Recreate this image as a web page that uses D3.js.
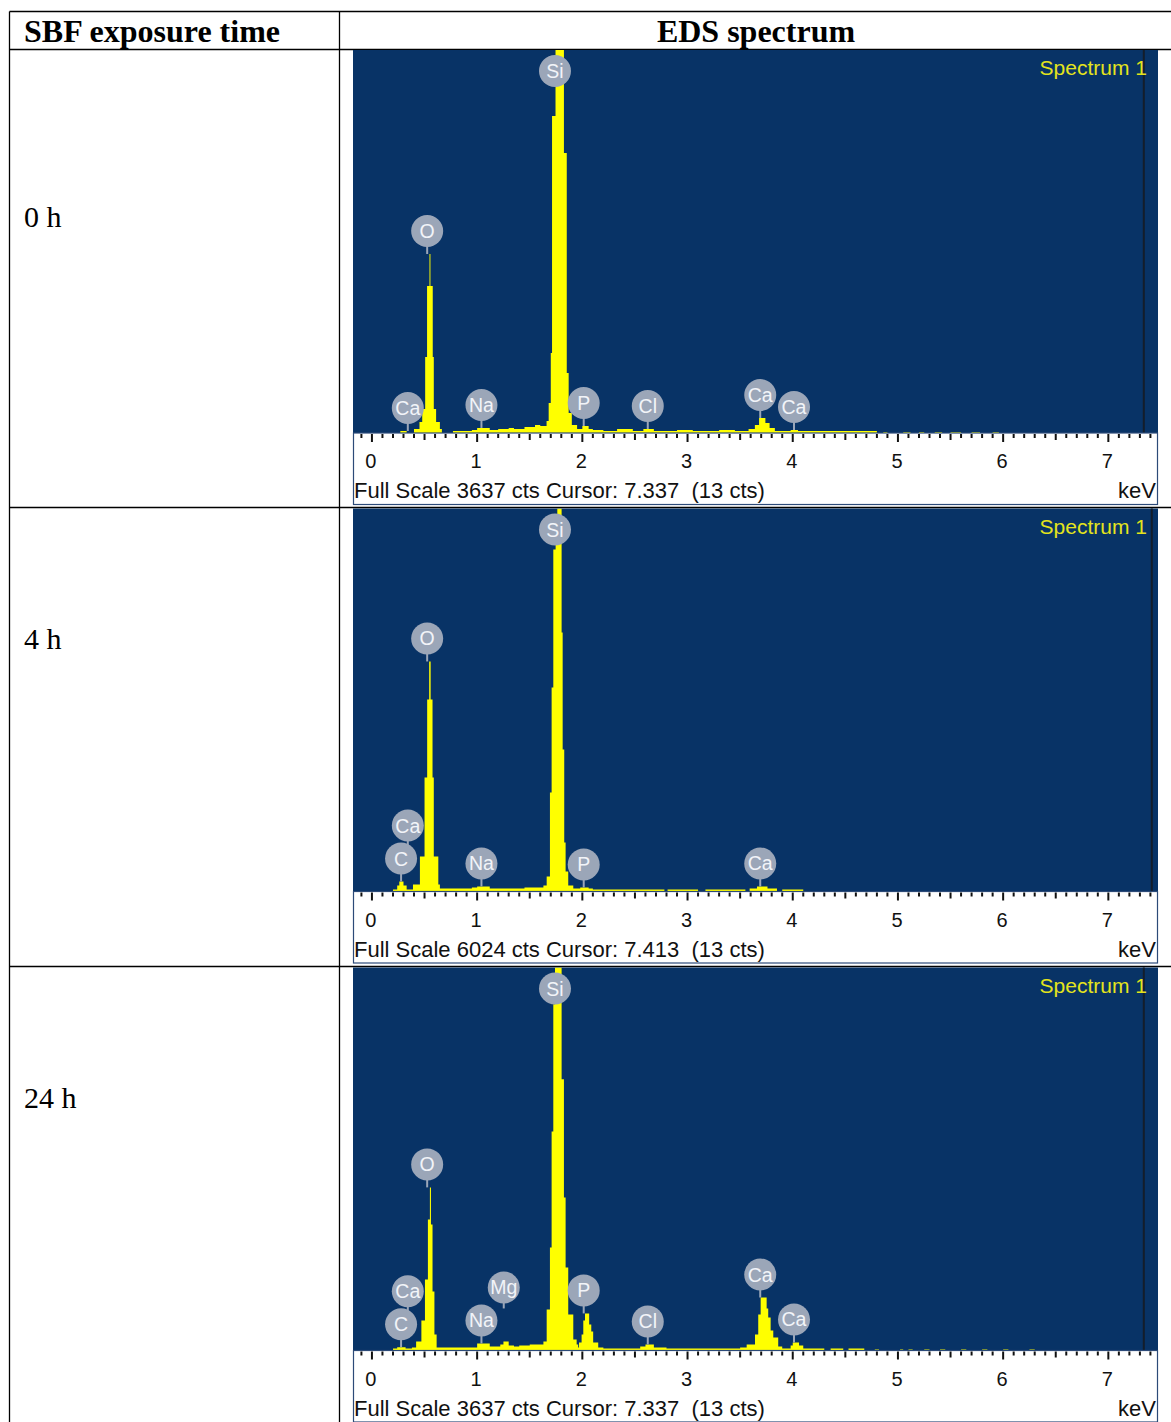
<!DOCTYPE html>
<html><head><meta charset="utf-8">
<script src="https://cdn.jsdelivr.net/npm/d3@7"></script>
<style>
html,body{margin:0;padding:0;background:#fff;}
svg{display:block;}
text{white-space:pre;}
</style></head>
<body>
<svg id="chart" width="1171" height="1422"></svg>
<script>
// ---------------- DATA ----------------
const headers = ["SBF exposure time", "EDS spectrum"];
const times = ["0 h", "4 h", "24 h"];
const fullScales = [3637, 6024, 3637];
const cursors = [7.337, 7.413, 7.337];
const cursorCounts = [13, 13, 13];
const tickValues = [0, 1, 2, 3, 4, 5, 6, 7];
const spectrumName = "Spectrum 1";

// step spectra: [keV where step starts, counts]
const spectrum0h = [
  [0.10,0],[0.27,19],[0.33,0],[0.40,38],[0.452,105],[0.478,228],[0.506,722],[0.524,1397],
  [0.547,1700],[0.556,1397],[0.578,722],[0.588,228],[0.610,105],[0.646,38],[0.665,0],
  [0.77,19],[0.95,28],[1.00,48],[1.12,28],[1.20,38],[1.30,48],[1.35,38],[1.45,57],[1.55,76],
  [1.60,66],[1.66,114],[1.68,285],[1.70,760],[1.712,3011],[1.745,3637],[1.825,2660],
  [1.852,570],[1.87,190],[1.90,76],[1.95,38],[2.00,66],[2.06,38],[2.10,28],[2.20,19],
  [2.33,38],[2.48,19],[2.58,38],[2.68,19],[2.90,28],[3.05,19],[3.30,28],[3.45,19],
  [3.58,38],[3.64,76],[3.68,142],[3.74,95],[3.78,48],[3.83,19],[3.98,28],[4.05,19],
  [4.80,0],[4.86,10],[4.90,0],[5.05,10],[5.12,0],[5.20,10],[5.25,0],[5.35,10],[5.42,0],
  [5.50,10],[5.60,0],[5.70,10],[5.78,0],[5.90,10],[5.96,0],[7.60,0]
];
const spectrum4h = [
  [0.10,0],[0.20,31],[0.24,94],[0.26,157],[0.30,94],[0.33,31],[0.39,110],[0.456,551],
  [0.500,1793],[0.525,3020],[0.544,3618],[0.558,3020],[0.576,1793],[0.588,551],[0.631,110],
  [0.646,47],[0.95,63],[1.00,79],[1.12,47],[1.45,63],[1.63,94],[1.661,236],[1.692,1557],
  [1.708,3209],[1.724,5380],[1.746,5664],[1.762,6024],[1.803,4074],[1.813,2234],[1.828,771],
  [1.841,315],[1.866,94],[1.914,47],[1.98,63],[2.06,47],[2.10,31],[2.78,0],[2.81,31],
  [3.10,0],[3.17,31],[3.55,0],[3.59,47],[3.66,79],[3.76,47],[3.85,0],[3.90,31],[4.10,0],[7.60,0]
];
const spectrum24h = [
  [0.10,0],[0.20,19],[0.24,31],[0.32,19],[0.38,28],[0.42,86],[0.47,285],[0.504,675],
  [0.532,1245],[0.551,1549],[0.561,1197],[0.576,560],[0.594,152],[0.615,28],[1.00,67],
  [1.12,38],[1.22,57],[1.25,86],[1.30,48],[1.35,38],[1.40,48],[1.50,57],[1.63,86],
  [1.661,390],[1.692,978],[1.708,2080],[1.724,3287],[1.740,3637],[1.803,2575],[1.825,1454],
  [1.841,789],[1.866,342],[1.914,105],[1.946,57],[1.96,28],[1.968,76],[1.993,152],[2.009,285],
  [2.025,352],[2.065,247],[2.085,180],[2.103,76],[2.151,28],[2.20,19],[2.55,38],[2.60,57],
  [2.68,28],[2.80,19],[3.50,28],[3.562,57],[3.641,152],[3.672,342],[3.695,503],[3.752,400],
  [3.767,313],[3.79,190],[3.815,124],[3.862,38],[3.90,19],[3.98,48],[4.00,76],[4.06,48],
  [4.10,19],[4.30,0],[4.36,19],[4.48,0],[4.53,19],[4.68,0],[4.78,10],[4.82,0],[5.02,10],
  [5.05,0],[5.10,10],[5.14,0],[5.25,10],[5.30,0],[5.40,10],[5.45,0],[5.60,10],[5.65,0],
  [5.80,10],[5.85,0],[6.00,10],[6.05,0],[6.25,10],[6.30,0],[7.60,0]
];
// peak labels: [element, line energy keV, stack level]
const labels0h = [["Ca",0.341,0],["O",0.525,0],["Na",1.041,0],["Si",1.740,0],["P",2.013,0],
  ["Cl",2.622,0],["Ca",3.691,0],["Ca",4.012,0]];
const labels4h = [["C",0.277,0],["Ca",0.341,1],["O",0.525,0],["Na",1.041,0],["Si",1.740,0],
  ["P",2.013,0],["Ca",3.691,0]];
const labels24h = [["C",0.277,0],["Ca",0.341,1],["O",0.525,0],["Na",1.041,0],["Mg",1.253,1],
  ["Si",1.740,0],["P",2.013,0],["Cl",2.622,0],["Ca",3.691,0],["Ca",4.012,0]];

const spectra = [spectrum0h, spectrum4h, spectrum24h];
const labelSets = [labels0h, labels4h, labels24h];

// ---------------- LAYOUT ----------------
const svg = d3.select("#chart");
const W = 1171;
const tableLeft = 9.5, tableTop = 11.5, headerBottom = 49.5, colDiv = 339.5;
const rowLines = [507.5, 966.5];
const panelTops = [50, 508.5, 967.5];
const panelX0 = 353, panelX1 = 1158;
const plotH = 383, axisH = 72;
const BLUE = "#083366", YELLOW = "#ffff00", LABEL = "#9ba6b8";

const x = d3.scaleLinear().domain([-0.18, 7.472]).range([panelX0, panelX1]);

// table
const tg = svg.append("g");
tg.append("line").attr("x1", tableLeft).attr("x2", W).attr("y1", tableTop).attr("y2", tableTop);
tg.append("line").attr("x1", tableLeft).attr("x2", W).attr("y1", headerBottom).attr("y2", headerBottom);
rowLines.forEach(y => tg.append("line").attr("x1", tableLeft).attr("x2", W).attr("y1", y).attr("y2", y));
tg.append("line").attr("x1", tableLeft).attr("x2", tableLeft).attr("y1", tableTop).attr("y2", 1422);
tg.append("line").attr("x1", colDiv).attr("x2", colDiv).attr("y1", tableTop).attr("y2", 1422);
tg.selectAll("line").attr("stroke", "#000").attr("stroke-width", 1.3);

const SERIF = "Liberation Serif, Times New Roman, serif";
svg.append("text").attr("x", 24).attr("y", 42).text(headers[0])
  .attr("font-family", SERIF).attr("font-weight", "bold").attr("font-size", 32);
svg.append("text").attr("x", 756).attr("y", 42).attr("text-anchor", "middle").text(headers[1])
  .attr("font-family", SERIF).attr("font-weight", "bold").attr("font-size", 32);

const timeBaselines = [227, 649, 1108];
times.forEach((t, i) => {
  svg.append("text").attr("x", 24).attr("y", timeBaselines[i]).text(t)
    .attr("font-family", SERIF).attr("font-size", 30);
});

// panels
const SANS = "Liberation Sans, Arial, sans-serif";
spectra.forEach((spec, i) => {
  const T = panelTops[i], B = T + plotH;
  const y = d3.scaleLinear().domain([0, fullScales[i]]).range([B, T]);
  const g = svg.append("g");
  const clipId = "clip" + i;
  svg.append("clipPath").attr("id", clipId).append("rect")
    .attr("x", panelX0).attr("y", T).attr("width", panelX1 - panelX0).attr("height", plotH);

  g.append("rect").attr("x", panelX0).attr("y", T).attr("width", panelX1 - panelX0).attr("height", plotH).attr("fill", BLUE);

  const area = d3.area().curve(d3.curveStepAfter)
    .x(d => x(d[0])).y0(B).y1(d => y(d[1]));
  g.append("path").datum(spec).attr("d", area).attr("fill", YELLOW).attr("clip-path", `url(#${clipId})`);

  // cursor
  g.append("line").attr("x1", x(cursors[i])).attr("x2", x(cursors[i])).attr("y1", T).attr("y2", B)
    .attr("stroke", "#141e2b").attr("stroke-width", 2);

  g.append("text").attr("x", 1147).attr("y", T + 25).attr("text-anchor", "end").text(spectrumName)
    .attr("fill", "#e4e41c").attr("font-family", SANS).attr("font-size", 21);

  // labels
  const peakAt = E => {
    let m = 0;
    for (let k = 0; k < spec.length - 1; k++) {
      if (spec[k][0] < E + 0.04 && spec[k + 1][0] > E - 0.04) m = Math.max(m, spec[k][1]);
    }
    return m;
  };
  const labs = labelSets[i].map(d => ({ el: d[0], e: d[1], level: d[2] }));
  labs.forEach(l => {
    if (l.level === 0) {
      l.peakY = y(Math.min(peakAt(l.e), fullScales[i]));
      l.cy = Math.max(l.peakY - 23, T + 21);
    }
  });
  labs.forEach(l => {
    if (l.level > 0) {
      const base = labs.filter(o => o.level === 0)
        .sort((a, b) => Math.abs(a.e - l.e) - Math.abs(b.e - l.e))[0];
      l.cy = base.cy - 33 * l.level;
      l.peakY = l.cy + 21;
    }
  });
  const lg = g.append("g");
  labs.forEach(l => {
    lg.append("line").attr("x1", x(l.e)).attr("x2", x(l.e)).attr("y1", l.cy).attr("y2", Math.max(l.peakY, l.cy))
      .attr("stroke", LABEL).attr("stroke-width", 2);
  });
  labs.forEach(l => {
    lg.append("circle").attr("cx", x(l.e)).attr("cy", l.cy).attr("r", 16).attr("fill", LABEL);
    lg.append("text").attr("x", x(l.e)).attr("y", l.cy + 7).attr("text-anchor", "middle").text(l.el)
      .attr("fill", "#f2f4f8").attr("font-family", SANS).attr("font-size", 19.5);
  });

  // axis area
  const A0 = B;
  g.append("rect").attr("x", panelX0 + 0.5).attr("y", A0).attr("width", panelX1 - panelX0 - 1).attr("height", axisH - 0.5)
    .attr("fill", "#fff").attr("stroke", "#2c4a78").attr("stroke-width", 1.2);
  const ticks = d3.range(-1, 75).map(k => k / 10);
  ticks.forEach(t => {
    const k = Math.round(t * 10);
    const len = k % 10 === 0 ? 8 : (k % 5 === 0 ? 6 : 4);
    if (x(t) < panelX0 + 2 || x(t) > panelX1 - 1) return;
    g.append("line").attr("x1", x(t)).attr("x2", x(t)).attr("y1", A0 + 1).attr("y2", A0 + 1 + len)
      .attr("stroke", "#111").attr("stroke-width", 2);
  });
  tickValues.forEach(v => {
    g.append("text").attr("x", x(v) - 1).attr("y", A0 + 35).attr("text-anchor", "middle").text(v)
      .attr("font-family", SANS).attr("font-size", 20).attr("fill", "#111");
  });
  g.append("text").attr("x", panelX0 + 1).attr("y", A0 + 65)
    .text(`Full Scale ${fullScales[i]} cts Cursor: ${cursors[i].toFixed(3)}  (${cursorCounts[i]} cts)`)
    .attr("font-family", SANS).attr("font-size", 22).attr("fill", "#111");
  g.append("text").attr("x", panelX1 - 2).attr("y", A0 + 65).attr("text-anchor", "end").text("keV")
    .attr("font-family", SANS).attr("font-size", 22).attr("fill", "#111");
});
</script>
</body></html>
